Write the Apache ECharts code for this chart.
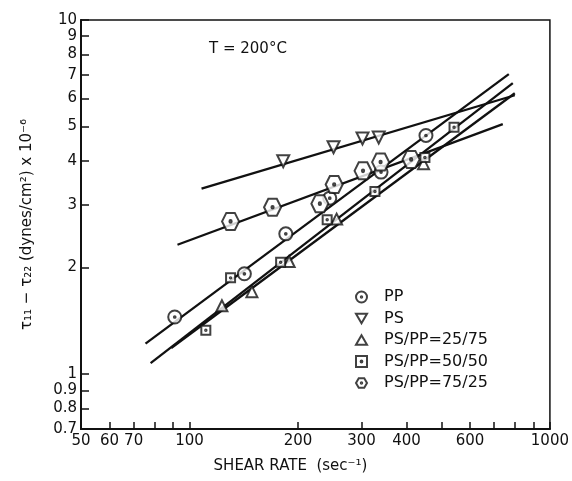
<!DOCTYPE html>
<html>
<head>
<meta charset="utf-8">
<title>Normal stress difference vs shear rate</title>
<script src="https://cdn.jsdelivr.net/npm/echarts@6/dist/echarts.min.js"></script>
<style>
  html, body { margin: 0; padding: 0; background: #fff; }
  #chart { width: 572px; height: 481px; }
</style>
</head>
<body>
<div id="chart"></div>
<script>
// shear rate (sec-1) and tau11 - tau22 (dynes/cm2 x 1e-6)
const ppRate = [91, 142, 185, 245, 340, 453];
const ppStress = [1.45, 1.92, 2.49, 3.14, 3.72, 4.72];

const psRate = [182, 251, 302, 335];
const psStress = [3.99, 4.37, 4.63, 4.66];

const b25Rate = [123, 149, 189, 256, 446];
const b25Stress = [1.56, 1.71, 2.08, 2.74, 3.93];

const b50Rate = [111, 130, 179, 241, 327, 450, 542];
const b50Stress = [1.33, 1.87, 2.07, 2.73, 3.28, 4.09, 4.98];

const b75Rate = [130, 170, 230, 252, 303, 339, 412];
const b75Stress = [2.70, 2.96, 3.03, 3.43, 3.75, 3.97, 4.04];

// end points of the fitted straight lines
const ppFitRate = [75.5, 769];
const ppFitStress = [1.22, 7.03];
const psFitRate = [108, 799];
const psFitStress = [3.34, 6.13];
const b25FitRate = [89, 799];
const b25FitStress = [1.185, 6.21];
const b50FitRate = [78, 789];
const b50FitStress = [1.074, 6.63];
const b75FitRate = [92.6, 740];
const b75FitStress = [2.32, 5.08];

// axis ticks and labels
const xTicks = [50, 60, 70, 80, 90, 100, 200, 300, 400, 500, 600, 700, 800, 900, 1000];
const xLabels = [50, 60, 70, 100, 200, 300, 400, 600, 1000];
const yTicks = [0.7, 0.8, 0.9, 1, 2, 3, 4, 5, 6, 7, 8, 9, 10];
const yLabels = [0.7, 0.8, 0.9, 1, 2, 3, 4, 5, 6, 7, 8, 9, 10];

const names = ['PP', 'PS', 'PS/PP=25/75', 'PS/PP=50/50', 'PS/PP=75/25'];

// both axes are logarithmic: plot log10 of the values on value axes
const toLog = (rates, stresses) => rates.map((r, i) => [Math.log10(r), Math.log10(stresses[i])]);

const dot = 'M0,-1.3A1.3,1.3,0,1,1,0,1.3A1.3,1.3,0,1,1,0,-1.3Z';
const symCircle = 'path://M0,-10A10,10,0,1,1,0,10A10,10,0,1,1,0,-10Z' + dot;
const symDown = 'path://M-10,-8L10,-8L0,9Z';
const symUp = 'path://M0,-9L10,8L-10,8Z';
const symSquare = 'path://M-8,-8L8,-8L8,8L-8,8Z' + dot;
const symHex = 'path://M-10,0L-5,-8.66L5,-8.66L10,0L5,8.66L-5,8.66Z' + dot;

const font = 'DejaVu Sans';
const ink = '#111';

const markStyle = { color: '#fff', borderColor: ink, borderWidth: 2 };

const scatter = (name, rates, stresses, symbol, size) => ({
    name: name,
    type: 'scatter',
    symbol: symbol,
    symbolSize: size,
    itemStyle: markStyle,
    z: 4,
    data: toLog(rates, stresses)
});

const fitLine = (rates, stresses) => ({
    type: 'line',
    symbol: 'none',
    silent: true,
    lineStyle: { color: ink, width: 2.3 },
    z: 3,
    data: toLog(rates, stresses)
});

const option = {
    animation: false,
    backgroundColor: '#fff',
    grid: {
        left: 81,
        right: 21,
        top: 20,
        bottom: 52,
        show: true,
        borderColor: ink,
        borderWidth: 1.5
    },
    graphic: [
        {
            type: 'text',
            left: 209,
            top: 42,
            style: { text: 'T = 200°C', fontSize: 15, fontFamily: font, fill: ink }
        }
    ],
    legend: {
        data: names,
        orient: 'vertical',
        left: 350,
        top: 284,
        itemWidth: 11,
        itemHeight: 11,
        itemGap: 5.5,
        textStyle: { fontSize: 16, fontFamily: font, color: ink, padding: [0, 0, 0, 12] }
    },
    xAxis: {
        type: 'value',
        min: Math.log10(50),
        max: Math.log10(1000),
        name: 'SHEAR RATE  (sec⁻¹)',
        nameLocation: 'middle',
        nameGap: 30,
        nameTextStyle: { fontSize: 15, fontFamily: font, color: ink, padding: [0, 50, 0, 0] },
        axisLine: { onZero: false, lineStyle: { color: ink, width: 2 } },
        axisTick: {
            inside: true,
            length: 7,
            customValues: xTicks.map(Math.log10),
            lineStyle: { color: ink, width: 1.5 }
        },
        axisLabel: {
            customValues: xLabels.map(Math.log10),
            formatter: (v) => String(Math.round(Math.pow(10, v))),
            fontSize: 15,
            fontFamily: font,
            color: ink,
            margin: 5
        },
        splitLine: { show: false }
    },
    yAxis: {
        type: 'value',
        min: Math.log10(0.7),
        max: Math.log10(10),
        name: 'τ₁₁ − τ₂₂ (dynes/cm²) x 10⁻⁶',
        nameLocation: 'middle',
        nameRotate: 90,
        nameGap: 46,
        nameTextStyle: { fontSize: 15, fontFamily: font, color: ink },
        axisLine: { onZero: false, lineStyle: { color: ink, width: 2 } },
        axisTick: {
            inside: true,
            length: 8,
            customValues: yTicks.map(Math.log10),
            lineStyle: { color: ink, width: 1.5 }
        },
        axisLabel: {
            customValues: yLabels.map(Math.log10),
            formatter: (v) => String(Math.round(Math.pow(10, v) * 10) / 10),
            fontSize: 15,
            fontFamily: font,
            color: ink,
            margin: 4
        },
        splitLine: { show: false }
    },
    series: [
        fitLine(ppFitRate, ppFitStress),
        fitLine(psFitRate, psFitStress),
        fitLine(b25FitRate, b25FitStress),
        fitLine(b50FitRate, b50FitStress),
        fitLine(b75FitRate, b75FitStress),
        scatter(names[0], ppRate, ppStress, symCircle, 13),
        scatter(names[1], psRate, psStress, symDown, 12),
        scatter(names[2], b25Rate, b25Stress, symUp, 11),
        scatter(names[3], b50Rate, b50Stress, symSquare, 9),
        scatter(names[4], b75Rate, b75Stress, symHex, 17)
    ]
};

const chart = echarts.init(document.getElementById('chart'));
chart.setOption(option);
</script>
</body>
</html>
